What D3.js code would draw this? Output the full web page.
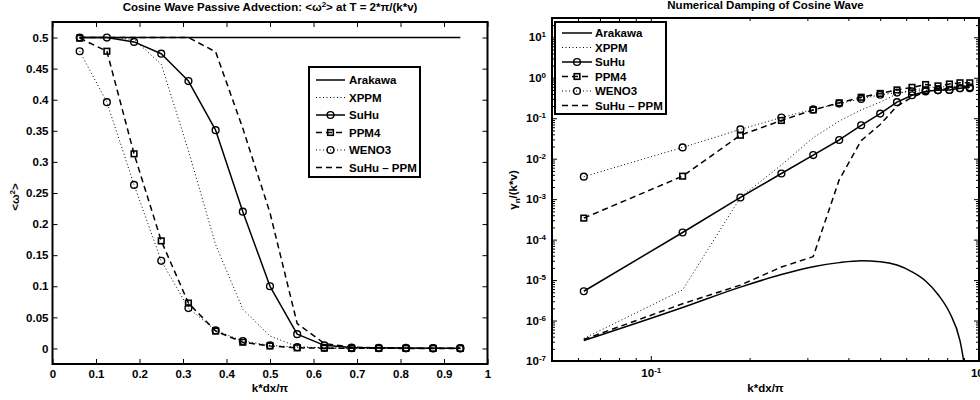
<!DOCTYPE html>
<html>
<head>
<meta charset="utf-8">
<script src="https://cdn.jsdelivr.net/npm/d3@7"></script>
<style>
  body { margin: 0; background: #fff; }
  text { font-family: "Liberation Sans", Arial, Helvetica, sans-serif; font-weight: bold; fill: #000; }
</style>
</head>
<body>
<svg id="chart" width="980" height="400"></svg>
<script>
// wavenumber k*dx/pi of the 15 resolved modes
const kdx = [0.0625, 0.125, 0.1875, 0.25, 0.3125, 0.375, 0.4375, 0.5,
             0.5625, 0.625, 0.6875, 0.75, 0.8125, 0.875, 0.9375];

const schemes = ["Arakawa", "XPPM", "SuHu", "PPM4", "WENO3", "SuHu – PPM"];

// <w^2> after one advection period T = 2*pi/(k*v)
const energyArakawa = [0.5, 0.5, 0.5, 0.5, 0.5, 0.5, 0.5, 0.5, 0.5, 0.5, 0.5, 0.5, 0.5, 0.5, 0.5];
const energyXPPM    = [0.5, 0.5, 0.497, 0.457, 0.318, 0.167, 0.063, 0.02, 0.003, 0.0008, 0.0003, 0.0002, 0.0001, 0.0001, 0.0001];
const energySuHu    = [0.5, 0.5, 0.493, 0.474, 0.43, 0.351, 0.22, 0.1, 0.023, 0.005, 0.0015, 0.001, 0.0008, 0.0005, 0.0004];
const energyPPM4    = [0.499, 0.478, 0.313, 0.173, 0.073, 0.028, 0.01, 0.004, 0.001, 0.0005, 0.0003, 0.0002, 0.0001, 0.0001, 0.0001];
const energyWENO3   = [0.478, 0.396, 0.263, 0.141, 0.065, 0.029, 0.012, 0.005, 0.002, 0.001, 0.0005, 0.0003, 0.0002, 0.0001, 0.0001];
const energySuHuPPM = [0.5, 0.5, 0.5, 0.5, 0.5, 0.477, 0.354, 0.218, 0.04, 0.008, 0.002, 0.001, 0.0005, 0.0003, 0.0002];

// normalised damping rate gamma_n/(k*v)
const dampArakawa = [3.2e-7, 2.1e-6, 6.7e-6, 1.37e-5, 2.14e-5, 2.7e-5, 3.0e-5, 2.85e-5, 2.35e-5, 1.6e-5, 9.5e-6, 4.4e-6, 1.6e-6, 3.2e-7, 1e-8];
const dampXPPM    = [3.6e-7, 5.7e-6, 1.1e-3, 7.0e-3, 0.033, 0.085, 0.16, 0.25, 0.4, 0.5, 0.55, 0.6, 0.6, 0.62, 0.65];
const dampSuHu    = [5.3e-6, 1.5e-4, 1.1e-3, 4.3e-3, 0.0123, 0.029, 0.067, 0.13, 0.25, 0.37, 0.46, 0.5, 0.5, 0.55, 0.58];
const dampPPM4    = [3.4e-4, 3.7e-3, 0.038, 0.088, 0.16, 0.24, 0.33, 0.41, 0.5, 0.58, 0.68, 0.63, 0.7, 0.75, 0.75];
const dampWENO3   = [3.6e-3, 0.019, 0.053, 0.104, 0.165, 0.23, 0.3, 0.38, 0.43, 0.46, 0.49, 0.49, 0.5, 0.55, 0.55];
const dampSuHuPPM = [3.4e-7, 2.6e-6, 7.5e-6, 2.1e-5, 3.8e-5, 3.0e-3, 0.028, 0.07, 0.2, 0.33, 0.45, 0.5, 0.55, 0.6, 0.62];

const energySeries = [energyArakawa, energyXPPM, energySuHu, energyPPM4, energyWENO3, energySuHuPPM];
const dampSeries   = [dampArakawa, dampXPPM, dampSuHu, dampPPM4, dampWENO3, dampSuHuPPM];

// line style per scheme
const styles = {
  "Arakawa":    { dash: null,    width: 1.5, marker: null,     curve: d3.curveMonotoneX },
  "XPPM":       { dash: "1,2.5", width: 1.0, marker: null,     curve: d3.curveLinear },
  "SuHu":       { dash: null,    width: 1.5, marker: "circle", curve: d3.curveLinear },
  "PPM4":       { dash: "6,4",   width: 1.5, marker: "square", curve: d3.curveLinear },
  "WENO3":      { dash: "1,2.5", width: 1.0, marker: "circle", curve: d3.curveLinear },
  "SuHu – PPM": { dash: "6,4",   width: 1.5, marker: null,     curve: d3.curveLinear }
};

const FS = 11.5;
const svg = d3.select("#chart");

function drawMarker(g, kind, cx, cy) {
  if (kind === "circle") {
    g.append("circle").attr("cx", cx).attr("cy", cy).attr("r", 3.4)
      .attr("fill", "none").attr("stroke", "#000").attr("stroke-width", 1.4);
  } else if (kind === "square") {
    g.append("rect").attr("x", cx - 2.8).attr("y", cy - 2.8).attr("width", 5.6).attr("height", 5.6)
      .attr("fill", "none").attr("stroke", "#000").attr("stroke-width", 1.6);
  }
}

function drawSeries(g, x, y, series, clipId) {
  const plot = g.append("g").attr("clip-path", `url(#${clipId})`);
  schemes.forEach((name, i) => {
    const st = styles[name];
    const pts = kdx.map((k, j) => [k, series[i][j]]);
    const line = d3.line().curve(st.curve).x(d => x(d[0])).y(d => y(d[1]));
    plot.append("path").datum(pts).attr("d", line)
      .attr("fill", "none").attr("stroke", "#000")
      .attr("stroke-width", st.width)
      .attr("stroke-dasharray", st.dash)
      .attr("stroke-linejoin", "round");
    if (st.marker) {
      const mg = plot.append("g");
      pts.forEach(p => drawMarker(mg, st.marker, x(p[0]), y(p[1])));
    }
  });
}

function drawLegend(g, x0, y0, w, h, sx1, sx2, tx, rows) {
  g.append("rect").attr("x", x0).attr("y", y0).attr("width", w).attr("height", h)
    .attr("fill", "#fff").attr("stroke", "#000").attr("stroke-width", 2);
  schemes.forEach((name, i) => {
    const st = styles[name];
    const ry = rows[i];
    g.append("line").attr("x1", sx1).attr("x2", sx2).attr("y1", ry).attr("y2", ry)
      .attr("stroke", "#000").attr("stroke-width", st.width)
      .attr("stroke-dasharray", st.dash);
    if (st.marker) drawMarker(g, st.marker, (sx1 + sx2) / 2, ry);
    g.append("text").attr("x", tx).attr("y", ry + 4).attr("font-size", FS).text(name);
  });
}

function frame(g, l, t, r, b) {
  g.append("rect").attr("x", l).attr("y", t).attr("width", r - l).attr("height", b - t)
    .attr("fill", "none").attr("stroke", "#000").attr("stroke-width", 2);
}

function styleAxis(sel) {
  sel.select(".domain").remove();
  sel.selectAll(".tick line").attr("stroke", "#000").attr("stroke-width", 1);
  sel.selectAll("text").attr("font-size", FS).attr("font-family", null).attr("fill", "#000");
}

const defs = svg.append("defs");

// ---------------- left panel: <w^2> ----------------
{
  const L = 52.5, R = 487.5, T = 22, B = 364;
  const x = d3.scaleLinear().domain([0, 1]).range([L, R]);
  const y = d3.scaleLinear().domain([-0.025, 0.525]).range([B, T]);
  const g = svg.append("g");
  defs.append("clipPath").attr("id", "clipL").append("rect")
    .attr("x", L).attr("y", T).attr("width", R - L).attr("height", B - T);

  const xt = d3.range(0, 11).map(i => i / 10);
  const yt = d3.range(0, 11).map(i => i * 0.05);
  const fmt = d => String(+d.toFixed(2));

  g.append("g").attr("transform", `translate(0,${B})`)
    .call(d3.axisBottom(x).tickValues(xt).tickFormat(fmt).tickSizeInner(-5).tickSizeOuter(0).tickPadding(6))
    .call(styleAxis);
  g.append("g").attr("transform", `translate(0,${T})`)
    .call(d3.axisTop(x).tickValues(xt).tickFormat("").tickSizeInner(-5).tickSizeOuter(0))
    .call(styleAxis);
  g.append("g").attr("transform", `translate(${L},0)`)
    .call(d3.axisLeft(y).tickValues(yt).tickFormat(fmt).tickSizeInner(-5).tickSizeOuter(0).tickPadding(4))
    .call(styleAxis);
  g.append("g").attr("transform", `translate(${R},0)`)
    .call(d3.axisRight(y).tickValues(yt).tickFormat("").tickSizeInner(-5).tickSizeOuter(0))
    .call(styleAxis);

  drawSeries(g, x, y, energySeries, "clipL");
  frame(g, L, T, R, B);

  drawLegend(g, 309, 67, 111, 110, 316, 345, 349, [80, 97.5, 115, 132.5, 150, 167.5]);

  const title = g.append("text").attr("x", (L + R) / 2).attr("y", 11).attr("text-anchor", "middle").attr("font-size", FS);
  title.append("tspan").text("Cosine Wave Passive Advection: <ω");
  title.append("tspan").attr("dy", -4).attr("font-size", 8).text("2");
  title.append("tspan").attr("dy", 4).text("> at T = 2*π/(k*v)");

  g.append("text").attr("x", (L + R) / 2).attr("y", 392).attr("text-anchor", "middle")
    .attr("font-size", FS).text("k*dx/π");

  const yl = g.append("text").attr("transform", "translate(19,197) rotate(-90)")
    .attr("text-anchor", "middle").attr("font-size", FS);
  yl.append("tspan").text("<ω");
  yl.append("tspan").attr("dy", -4).attr("font-size", 8).text("2");
  yl.append("tspan").attr("dy", 4).text(">");
}

// ---------------- right panel: damping rate ----------------
{
  const L = 552, R = 979, T = 18, B = 361;
  const x = d3.scaleLog().domain([0.05, 1]).range([L, R]);
  const y = d3.scaleLog().domain([1e-7, 30]).range([B, T]);
  const g = svg.append("g");
  defs.append("clipPath").attr("id", "clipR").append("rect")
    .attr("x", L).attr("y", T).attr("width", R - L).attr("height", B - T);

  const xMajor = [0.1, 1];
  const xMinor = [0.05, 0.06, 0.07, 0.08, 0.09, 0.2, 0.3, 0.4, 0.5, 0.6, 0.7, 0.8, 0.9];
  const yMajor = d3.range(-7, 2).map(e => Math.pow(10, e));
  const yMinor = [];
  d3.range(-7, 2).forEach(e => { for (let m = 2; m <= 9; m++) { const v = m * Math.pow(10, e); if (v <= 30) yMinor.push(v); } });

  // superscript power-of-ten labels
  const powLabel = function (d) {
    const e = Math.round(Math.log10(d));
    const t = d3.select(this);
    t.text(null);
    t.append("tspan").text("10");
    t.append("tspan").attr("dy", "-0.5em").attr("font-size", 8).text(String(e));
  };

  const bx = g.append("g").attr("transform", `translate(0,${B})`)
    .call(d3.axisBottom(x).tickValues(xMajor).tickFormat(d => d).tickSizeInner(-5).tickSizeOuter(0).tickPadding(8))
    .call(styleAxis);
  bx.selectAll(".tick text").each(powLabel);
  g.append("g").attr("transform", `translate(0,${B})`)
    .call(d3.axisBottom(x).tickValues(xMinor).tickFormat("").tickSizeInner(-3).tickSizeOuter(0)).call(styleAxis);
  g.append("g").attr("transform", `translate(0,${T})`)
    .call(d3.axisTop(x).tickValues(xMajor).tickFormat("").tickSizeInner(-5).tickSizeOuter(0)).call(styleAxis);
  g.append("g").attr("transform", `translate(0,${T})`)
    .call(d3.axisTop(x).tickValues(xMinor).tickFormat("").tickSizeInner(-3).tickSizeOuter(0)).call(styleAxis);

  const ly = g.append("g").attr("transform", `translate(${L},0)`)
    .call(d3.axisLeft(y).tickValues(yMajor).tickFormat(d => d).tickSizeInner(-5).tickSizeOuter(0).tickPadding(6))
    .call(styleAxis);
  ly.selectAll(".tick text").each(powLabel);
  g.append("g").attr("transform", `translate(${L},0)`)
    .call(d3.axisLeft(y).tickValues(yMinor).tickFormat("").tickSizeInner(-3).tickSizeOuter(0)).call(styleAxis);
  g.append("g").attr("transform", `translate(${R},0)`)
    .call(d3.axisRight(y).tickValues(yMajor).tickFormat("").tickSizeInner(-5).tickSizeOuter(0)).call(styleAxis);
  g.append("g").attr("transform", `translate(${R},0)`)
    .call(d3.axisRight(y).tickValues(yMinor).tickFormat("").tickSizeInner(-3).tickSizeOuter(0)).call(styleAxis);

  drawSeries(g, x, y, dampSeries, "clipR");
  frame(g, L, T, R, B);

  drawLegend(g, 555, 22, 111, 92, 562, 592, 595, [33, 47.5, 62, 76.5, 91, 105.5]);

  g.append("text").attr("x", (L + R) / 2).attr("y", 9).attr("text-anchor", "middle")
    .attr("font-size", FS).text("Numerical Damping of Cosine Wave");

  g.append("text").attr("x", (L + R) / 2).attr("y", 392).attr("text-anchor", "middle")
    .attr("font-size", FS).text("k*dx/π");

  const yl = g.append("text").attr("transform", "translate(517,190) rotate(-90)")
    .attr("text-anchor", "middle").attr("font-size", FS);
  yl.append("tspan").text("γ");
  yl.append("tspan").attr("dy", 3).attr("font-size", 8).text("n");
  yl.append("tspan").attr("dy", -3).text("/(k*v)");
}
</script>
</body>
</html>
